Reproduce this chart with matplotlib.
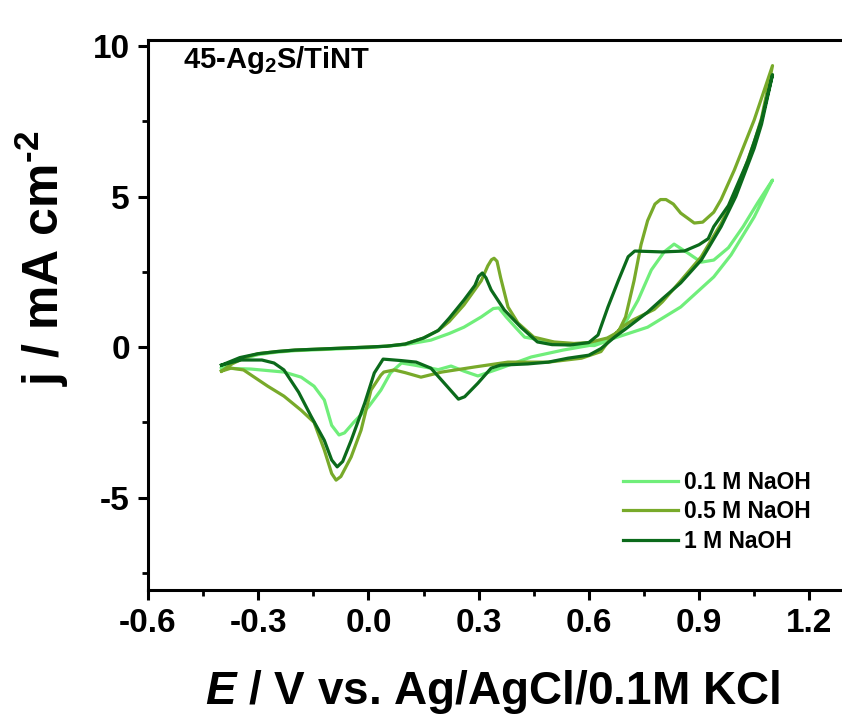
import matplotlib
matplotlib.use("Agg")
import matplotlib.pyplot as plt
from matplotlib.ticker import MultipleLocator

plt.rcParams["font.family"] = ["Liberation Sans", "DejaVu Sans"]
plt.rcParams["font.weight"] = "bold"
plt.rcParams["mathtext.fontset"] = "custom"
plt.rcParams["mathtext.rm"] = "Liberation Sans:bold"
plt.rcParams["mathtext.bf"] = "Liberation Sans:bold"
plt.rcParams["mathtext.it"] = "Liberation Sans:bold:italic"

# ------------------------------------------------------------------
# CV loops: forward scan -0.4 -> 1.1 V, then back
# ------------------------------------------------------------------
E_01M = [-0.40, -0.36, -0.30, -0.25, -0.20, -0.10, 0.00, 0.10, 0.17, 0.22,
         0.26, 0.307, 0.34, 0.355, 0.375, 0.40, 0.425, 0.47, 0.543, 0.615,
         0.65, 0.688, 0.734, 0.77, 0.805, 0.832, 0.87, 0.906, 0.94, 0.98,
         1.02, 1.06, 1.10,
         1.05, 0.987, 0.94, 0.85, 0.76, 0.67, 0.60, 0.53, 0.443, 0.36,
         0.298, 0.26, 0.225, 0.19, 0.125, 0.09, 0.06, 0.034, 0.00, -0.04,
         -0.065, -0.08, -0.10, -0.12, -0.148, -0.183, -0.23, -0.32, -0.40]
j_01M = [-0.70, -0.45, -0.25, -0.17, -0.12, -0.07, -0.02, 0.08, 0.23, 0.45,
         0.66, 1.00, 1.28, 1.30, 1.00, 0.66, 0.33, 0.23, 0.07, 0.05,
         0.20, 0.56, 1.56, 2.56, 3.16, 3.42, 3.12, 2.82, 2.89, 3.30,
         4.00, 4.80, 5.55,
         4.32, 3.06, 2.33, 1.33, 0.66, 0.30, 0.05, -0.10, -0.33, -0.70,
         -0.96, -0.80, -0.63, -0.75, -0.60, -0.53, -0.86, -1.43, -1.99, -2.50,
         -2.85, -2.92, -2.60, -1.76, -1.30, -1.00, -0.83, -0.73, -0.70]

E_05M = [-0.40, -0.37, -0.33, -0.30, -0.25, -0.20, -0.10, 0.00, 0.05, 0.10,
         0.15, 0.19, 0.22, 0.26, 0.307, 0.325, 0.335, 0.342, 0.35, 0.36,
         0.38, 0.407, 0.45, 0.505, 0.56, 0.60, 0.65, 0.68, 0.70, 0.723,
         0.742, 0.76, 0.78, 0.795, 0.81, 0.83, 0.85, 0.887, 0.91, 0.94,
         0.96, 0.996, 1.05, 1.10,
         1.07, 1.05, 1.00, 0.96, 0.906, 0.85, 0.80, 0.778, 0.72, 0.69,
         0.66, 0.633, 0.58, 0.49, 0.38, 0.29, 0.20, 0.143, 0.10, 0.07,
         0.042, 0.034, 0.007, -0.02, -0.047, -0.075, -0.088, -0.10, -0.12,
         -0.148, -0.183, -0.23, -0.274, -0.34, -0.374, -0.40]
j_05M = [-0.80, -0.55, -0.32, -0.22, -0.15, -0.10, -0.05, 0.00, 0.03, 0.10,
         0.30, 0.55, 0.85, 1.40, 2.20, 2.70, 2.90, 2.95, 2.85, 2.30,
         1.33, 0.80, 0.33, 0.17, 0.12, 0.15, 0.30, 0.50, 1.00, 2.20,
         3.40, 4.20, 4.75, 4.90, 4.90, 4.75, 4.45, 4.12, 4.15, 4.48,
         4.90, 5.88, 7.54, 9.35,
         7.60, 6.80, 5.10, 4.10, 3.00, 2.20, 1.50, 1.25, 0.90, 0.66,
         0.30, -0.15, -0.37, -0.50, -0.50, -0.66, -0.83, -1.00, -0.85, -0.76,
         -0.83, -0.93, -1.43, -2.76, -3.65, -4.30, -4.42, -4.20, -3.42,
         -2.50, -2.10, -1.63, -1.30, -0.76, -0.70, -0.80]

E_1M = [-0.40, -0.35, -0.30, -0.25, -0.20, -0.10, 0.00, 0.05, 0.10, 0.15,
        0.19, 0.22, 0.26, 0.29, 0.30, 0.31, 0.32, 0.334, 0.37, 0.415,
        0.46, 0.50, 0.55, 0.60, 0.625, 0.652, 0.68, 0.707, 0.725, 0.80,
        0.86, 0.90, 0.925, 0.94, 0.98, 1.033, 1.07, 1.10,
        1.07, 1.05, 1.00, 0.96, 0.906, 0.85, 0.80, 0.76, 0.70, 0.67,
        0.633, 0.60, 0.543, 0.49, 0.434, 0.36, 0.334, 0.298, 0.262, 0.245,
        0.216, 0.17, 0.13, 0.09, 0.04, 0.016, -0.01, -0.047, -0.07, -0.085,
        -0.10, -0.12, -0.156, -0.19, -0.23, -0.257, -0.29, -0.347, -0.40]
j_1M = [-0.60, -0.35, -0.22, -0.15, -0.10, -0.05, 0.00, 0.03, 0.10, 0.30,
        0.55, 0.96, 1.56, 2.05, 2.35, 2.46, 2.30, 1.90, 1.23, 0.66,
        0.17, 0.08, 0.07, 0.15, 0.40, 1.33, 2.20, 3.00, 3.19, 3.16,
        3.19, 3.40, 3.60, 4.00, 4.70, 6.20, 7.54, 9.05,
        7.40, 6.60, 5.00, 4.00, 2.89, 2.13, 1.60, 1.16, 0.60, 0.33,
        -0.05, -0.27, -0.37, -0.50, -0.56, -0.60, -0.70, -1.20, -1.65, -1.73,
        -1.33, -0.70, -0.50, -0.45, -0.40, -0.86, -1.86, -3.10, -3.80, -3.98,
        -3.75, -3.10, -2.30, -1.50, -0.76, -0.53, -0.43, -0.43, -0.60]

labels = ["0.1 M NaOH", "0.5 M NaOH", "1 M NaOH"]
colors = ["#70EE7A", "#78AA2A", "#0B6A1B"]

W, H = 842, 719
fig = plt.figure(figsize=(W / 100, H / 100), dpi=100)
ax = fig.add_axes([148 / W, 129 / H, 698 / W, 550 / H])

for E, j, lab, c in zip([E_01M, E_05M, E_1M], [j_01M, j_05M, j_1M], labels, colors):
    ax.plot(E, j, color=c, lw=2.3, label=lab, solid_joinstyle="round")

ax.set_xlim(-0.6, 1.3)
ax.set_ylim(-8.07, 10.2)
ax.xaxis.set_minor_locator(MultipleLocator(0.15))
ax.yaxis.set_minor_locator(MultipleLocator(2.5))
ax.set_xticks([-0.6, -0.3, 0.0, 0.3, 0.6, 0.9, 1.2])
ax.set_xticklabels(["-0.6", "-0.3", "0.0", "0.3", "0.6", "0.9", "1.2"])
ax.set_yticks([-5, 0, 5, 10])
ax.set_yticklabels(["-5", "0", "5", "10"])

for s in ["left", "bottom", "top"]:
    ax.spines[s].set_linewidth(2.2)
ax.spines["right"].set_visible(False)
ax.tick_params(which="major", direction="out", length=7, width=2.2,
               labelsize=24, pad=6, top=False, right=False)
ax.tick_params(which="minor", direction="out", length=4, width=2.0,
               top=False, right=False)
for t in ax.get_xticklabels() + ax.get_yticklabels():
    t.set_fontweight("bold")

fig.text(42 / W, 1 - 258 / H, r"j / mA cm$^{\text{-2}}$", rotation=90,
         fontsize=36, fontweight="bold", ha="center", va="center")
fig.text(492 / W, 1 - 704 / H, r"$E$ / V vs. Ag/AgCl/0.1M KCl",
         fontsize=33, fontweight="bold", ha="center", va="baseline")
fig.text(183 / W, 1 - 68 / H, r"45-Ag$_{\mathrm{2}}$S/TiNT",
         fontsize=21, fontweight="bold", ha="left", va="baseline")

ax.legend(loc="upper left", bbox_to_anchor=(623 / W, 1 - 471 / H),
          bbox_transform=fig.transFigure, frameon=False,
          prop={"size": 16.5, "weight": "bold"}, handlelength=2.4,
          handletextpad=0.25, labelspacing=0.28, borderpad=0,
          borderaxespad=0)

fig.savefig("out.png", dpi=100)
